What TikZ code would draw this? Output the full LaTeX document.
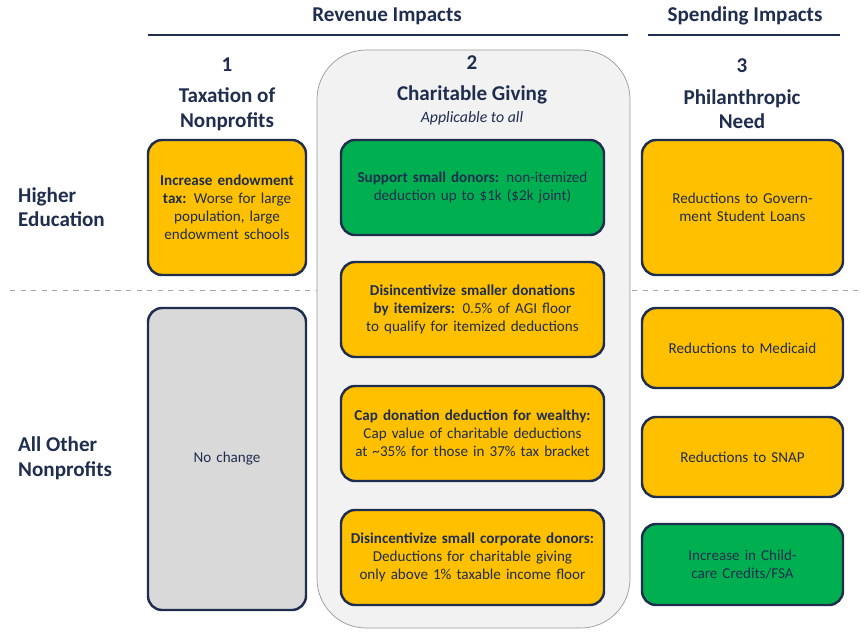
\documentclass[tikz,border=0pt]{standalone}
\usepackage{fontspec}
\setmainfont{Carlito}
\usetikzlibrary{positioning}
\definecolor{navy}{HTML}{1F2D4E}
\definecolor{gold}{HTML}{FFC000}
\definecolor{leaf}{HTML}{00B050}
\definecolor{panel}{HTML}{F2F2F2}
\definecolor{ash}{HTML}{D9D9D9}
\tikzset{
  head/.style={text=navy, font=\fontsize{12}{14}\selectfont\bfseries, align=center},
  card/.style={draw=navy, line width=1.4pt, rounded corners=8pt, text=navy,
    font=\fontsize{8.6}{10.2}\selectfont, align=center, inner sep=0pt},
}
\newcommand{\card}[7]{% name, x1, y1, x2, y2, fill, text
  \pgfmathsetmacro{\cw}{(#4-#2)*0.02}
  \pgfmathsetmacro{\ch}{(#5-#3)*0.02}
  \pgfmathsetmacro{\tw}{(#4-#2)*0.02-0.35}
  \node[card, fill=#6, minimum width=\cw cm, minimum height=\ch cm,
    text width=\tw cm] (#1) at ({(#2+#4)/2},{(#3+#5)/2}) {#7};}
\begin{document}
\begin{tikzpicture}[x=0.02cm, y=-0.02cm]
\useasboundingbox (0,0) rectangle (868,640);
% Kopfzeile
\node[head] (rev) at (387,16) {Revenue Impacts};
\node[head] (spend) at (745,16) {Spending Impacts};
\draw[navy, line width=0.8pt] (148,35) -- (628,35);
\draw[navy, line width=0.8pt] (648,35) -- (840,35);
% Trennlinie
\draw[gray!70, dashed] (10,290) -- (858,290);
% Panel
\draw[gray!80, fill=panel, rounded corners=28pt] (317,50) rectangle (630,628);
% Spaltenköpfe
\node[head] (c1) at (227,94) {1\\[4pt]Taxation of\\Nonprofits};
\node[head] (c2) at (472,80) {2\\[4pt]Charitable Giving};
\node[text=navy, font=\fontsize{9}{11}\selectfont\itshape] (c2sub) at (472,118) {Applicable to all};
\node[head] (c3) at (742,94) {3\\[4pt]Philanthropic\\Need};
% Zeilen
\node[head, align=left, anchor=west] (he) at (12,207) {Higher\\Education};
\node[head, align=left, anchor=west] (ao) at (12,458) {All Other\\Nonprofits};
% Spalte 1
\card{endow}{148}{140}{306}{275}{gold}{\textbf{Increase endowment tax:} Worse for large population, large endowment schools}
\card{none}{148}{308}{306}{610}{ash}{No change}
% Spalte 2
\card{donors}{341}{140}{604}{235}{leaf}{\textbf{Support small donors:} non-itemized deduction up to \$1k (\$2k joint)}
\card{itemize}{341}{262}{604}{357}{gold}{\textbf{Disincentivize smaller donations by itemizers:} 0.5\% of AGI floor to qualify for itemized deductions}
\card{cap}{341}{386}{604}{481}{gold}{\textbf{Cap donation deduction for wealthy:} Cap value of charitable deductions at \textasciitilde35\% for those in 37\% tax bracket}
\card{corp}{341}{510}{604}{605}{gold}{\textbf{Disincentivize small corporate donors:} Deductions for charitable giving only above 1\% taxable income floor}
% Spalte 3
\card{loans}{642}{140}{843}{275}{gold}{Reductions to Government Student Loans}
\card{medicaid}{642}{308}{843}{388}{gold}{Reductions to Medicaid}
\card{snap}{642}{417}{843}{497}{gold}{Reductions to SNAP}
\card{child}{642}{524}{843}{605}{leaf}{Increase in Childcare Credits/FSA}
\end{tikzpicture}
\end{document}
